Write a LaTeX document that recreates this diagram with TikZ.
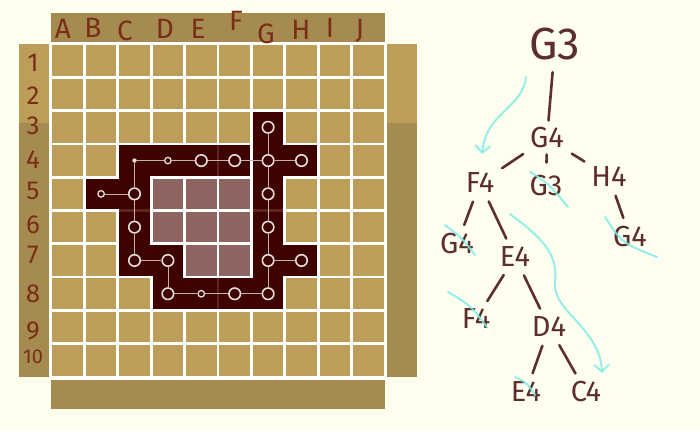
\documentclass[tikz,border=0pt]{standalone}
\usepackage{fontspec}
\setmainfont{Fira Sans}
\usepackage{tikz}
\usetikzlibrary{calc}
\usetikzlibrary{arrows.meta}
\definecolor{cream}{RGB}{255, 255, 240}
\definecolor{sand}{RGB}{189, 158, 89}
\definecolor{umber}{RGB}{166, 139, 80}
\definecolor{maroon}{RGB}{62, 2, 0}
\definecolor{mauve}{RGB}{142, 101, 96}
\definecolor{ink}{RGB}{94, 46, 42}
\definecolor{rust}{RGB}{122, 46, 24}
\definecolor{chalk}{RGB}{230, 222, 216}
\definecolor{aqua}{RGB}{128, 236, 230}

\begin{document}
\begin{tikzpicture}[x=1pt, y=-1pt,
    collabel/.style={text=rust, font=\fontsize{28}{28}\selectfont, inner sep=0pt},
    rowlabel/.style={text=rust, font=\fontsize{26}{26}\selectfont, inner sep=0pt},
    stone/.style={circle, draw=chalk, line width=1.6pt, minimum size=11.5pt, inner sep=0pt},
    pebble/.style={circle, draw=chalk, line width=1.3pt, minimum size=6.5pt, inner sep=0pt},
    grain/.style={circle, fill=chalk, minimum size=4.5pt, inner sep=0pt},
    trail/.style={draw=chalk!80!maroon, line width=0.6pt},
    treenode/.style={text=ink, font=\fontsize{29}{29}\selectfont, inner sep=1pt},
    treeline/.style={draw=ink, line width=2.6pt, line cap=round, shorten <=8pt, shorten >=8pt},
    scratch/.style={draw=aqua, line width=2pt, line cap=round, opacity=0.85},
    hint/.style={scratch, -{Straight Barb[length=7pt, width=15pt]}}]
    \useasboundingbox (0,0) rectangle (700,431);
    \fill[cream] (0,0) rectangle (700,431);
    % frame of the board
    \fill[umber]  (51,13)  rectangle (385,42);
    \fill[umber]  (51,380) rectangle (385,409);
    \fill[umber]  (19,44)  rectangle (49,377);
    \fill[sand]   (19,44)  rectangle (49,123);
    \fill[umber]  (387,44) rectangle (417,377);
    \fill[sand]   (387,44) rectangle (417,123);
    \fill[white]  (49,42)  rectangle (387,379);
    % board cells
    \begin{scope}[shift={(51,44)}, x=33.4pt, y=-33.3pt]
        \foreach \i in {0,...,9}
            \foreach \j in {0,...,9}
                \fill[sand] (\i+0.04,\j+0.04) rectangle (\i+0.96,\j+0.96);
        \foreach \i/\j in {3/4, 4/4, 5/4, 3/5, 4/5, 5/5, 4/6, 5/6}
            \fill[mauve] (\i+0.04,\j+0.04) rectangle (\i+0.96,\j+0.96);
        \foreach \i/\j in {2/3, 3/3, 4/3, 1/4, 2/4, 2/5, 2/6, 3/6, 3/7, 4/7,
                           5/3, 6/2, 6/3, 7/3, 6/4, 6/5, 6/6, 7/6, 5/7, 6/7}
            \fill[maroon] (\i+0.04,\j+0.04) rectangle (\i+0.96,\j+0.96);
        \foreach \i/\j in {2/3, 3/3, 1/4, 2/6, 3/7, 6/3, 6/6, 5/7}
            \fill[maroon] (\i+0.95,\j+0.04) rectangle (\i+1.05,\j+0.96);
        \foreach \i/\j in {6/2, 6/3, 2/3, 6/5, 6/6, 2/5, 3/6}
            \fill[maroon] (\i+0.04,\j+0.95) rectangle (\i+0.96,\j+1.05);
        \foreach \i/\j in {4/3, 4/7}
            \fill[maroon!65!mauve] (\i+0.96,\j+0.04) rectangle (\i+1.04,\j+0.96);
        \foreach \i/\j in {6/4, 2/4}
            \fill[maroon!65!mauve] (\i+0.04,\j+0.96) rectangle (\i+0.96,\j+1.04);
        % path through the board
        \foreach \n/\i/\j in {G3/6/2, E4/4/3, F4/5/3, G4/6/3, H4/7/3, C5/2/4, G5/6/4, C6/2/5,
                              G6/6/5, C7/2/6, D7/3/6, G7/6/6, H7/7/6, D8/3/7, F8/5/7, G8/6/7}
            \node[stone] (s\n) at (\i+0.5,\j+0.5) {};
        \foreach \n/\i/\j in {D4/3/3, B5/1/4, E8/4/7}
            \node[pebble] (s\n) at (\i+0.5,\j+0.5) {};
        \node[grain] (sC4) at (2.5,3.5) {};
        \foreach \a/\b in {C4/D4, D4/E4, E4/F4, F4/G4, G4/H4, G3/G4, G4/G5, G5/G6, G6/G7, G7/G8,
                           C4/C5, C5/C6, C6/C7, B5/C5, C7/D7, D7/D8, D8/E8, E8/F8, F8/G8, G7/H7}
            \draw[trail] (s\a) -- (s\b);
    \end{scope}
    % labels of the board
    \foreach \c/\x/\y in {A/63/29, B/93/28, C/125/31, D/165/29, E/198/29,
                          F/236/21, G/266/34, H/301/30, I/330/28, J/360/31}
        \node[collabel] (col\c) at (\x,\y) {\c};
    \foreach \r/\y in {1/63, 2/96, 3/126, 4/160, 5/191, 6/225, 7/255, 8/294, 9/331}
        \node[rowlabel] (row\r) at (33,\y) {\r};
    \node[rowlabel, font=\fontsize{20}{20}\selectfont] (row10) at (33,357) {10};
    % search tree
    \node[treenode, font=\fontsize{45}{45}\selectfont] (t-root) at (555,44) {G3};
    \node[treenode] (t-g4)  at (547,138) {G4};
    \node[treenode] (t-f4)  at (480,183) {F4};
    \node[treenode] (t-g3)  at (546,186) {G3};
    \node[treenode] (t-h4)  at (609,177) {H4};
    \node[treenode] (t-g4l) at (457,244) {G4};
    \node[treenode] (t-e4)  at (515,257) {E4};
    \node[treenode] (t-g4r) at (630,237) {G4};
    \node[treenode] (t-f4l) at (476,319) {F4};
    \node[treenode] (t-d4)  at (549,327) {D4};
    \node[treenode] (t-e4l) at (526,392) {E4};
    \node[treenode] (t-c4)  at (586,392) {C4};
    \draw[treeline, shorten <=11pt, shorten >=6pt] (t-root) -- (t-g4);
    \draw[treeline, shorten >=12pt, shorten <=5pt] (t-g4) -- (t-g3);
    \foreach \a/\b in {g4/f4, g4/h4, f4/g4l, f4/e4, h4/g4r, e4/f4l, e4/d4, d4/e4l, d4/c4}
        \draw[treeline] (t-\a) -- (t-\b);
    % hints of the walk
    \coordinate (h1s) at (526,77);
    \coordinate (h1e) at (482,154);
    \draw[hint] (h1s) .. controls (523,108) and (486,112) .. (h1e);
    \coordinate (h2s) at (510,214);
    \coordinate (h2e) at (602,373);
    \draw[hint] (h2s) .. controls (545,240) and (558,255) .. (555,283)
                      .. controls (553,312) and (600,328) .. (h2e);
    \draw[scratch] (530,172) .. controls (548,183) .. (568,207);
    \draw[scratch] (445,225) .. controls (462,238) .. (475,255);
    \draw[scratch] (605,217) .. controls (622,243) .. (657,257);
    \draw[scratch] (448,292) .. controls (470,305) .. (487,327);
    \draw[scratch] (515,377) .. controls (527,383) .. (535,395);
\end{tikzpicture}
\end{document}
